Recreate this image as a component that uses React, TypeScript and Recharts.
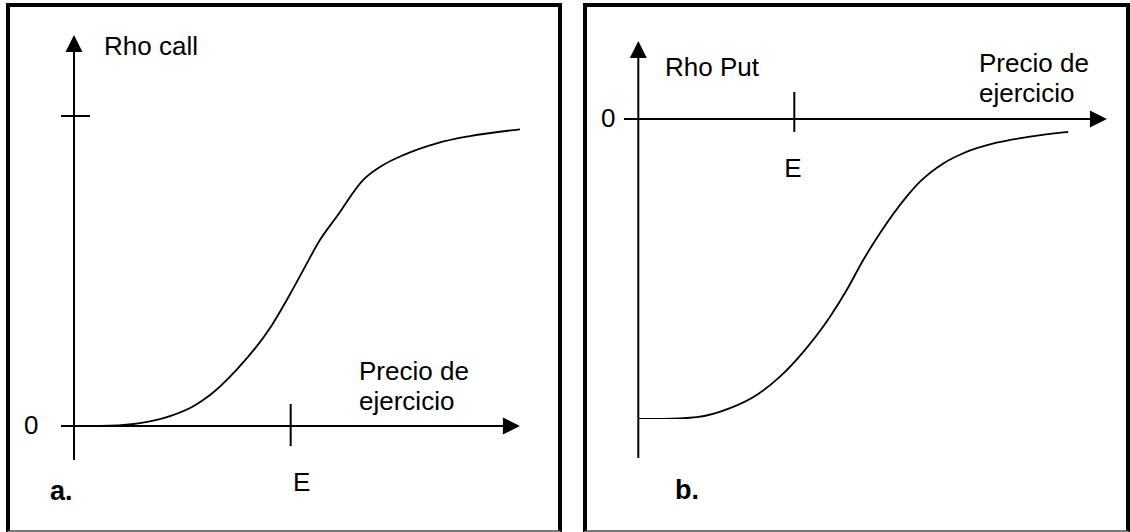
import React from "react";
import { ComposedChart, Line, XAxis, YAxis, ReferenceLine } from "recharts";

// strike price = 100 on both x scales
const callPrice = [0, 12, 28.9, 44.3, 55.1, 62.8, 75.1, 90.4, 99.7, 105.8, 113.5, 121.2, 133.5, 142.7, 152, 167.4, 182.7, 205.8];
const callRho = [0, 0, 0.008, 0.032, 0.064, 0.1, 0.182, 0.315, 0.425, 0.503, 0.6, 0.675, 0.794, 0.842, 0.874, 0.912, 0.935, 0.957];

const putPrice = [0, 16, 37.4, 58.8, 75.9, 90.8, 105.8, 122.9, 133.6, 144.2, 154.9, 172, 180.6, 195.5, 208.3, 229.7, 251.1, 275.6];
const putRho = [-1, -1, -0.994, -0.964, -0.92, -0.859, -0.776, -0.659, -0.57, -0.47, -0.381, -0.259, -0.209, -0.148, -0.114, -0.079, -0.059, -0.043];

const strike = 100;
const axisTitleX = ["Precio de", "ejercicio"];
const strikeLabel = "E";
const zeroLabel = "0";

const callData = callPrice.map((x, i) => ({ x, rho: callRho[i] }));
const putData = putPrice.map((x, i) => ({ x, rho: putRho[i] }));

const FONT = "'Liberation Sans', Arial, sans-serif";

const ArrowLine = (props: any) => {
  const { x1, y1, x2, y2 } = props;
  const dx = x2 - x1;
  const dy = y2 - y1;
  const len = Math.hypot(dx, dy) || 1;
  const ux = dx / len;
  const uy = dy / len;
  const hl = 17;
  const hw = 8.5;
  const bx = x2 - ux * hl;
  const by = y2 - uy * hl;
  return (
    <g>
      <line x1={x1} y1={y1} x2={bx} y2={by} stroke="#000" strokeWidth={2} />
      <polygon
        points={`${x2},${y2} ${bx - uy * hw},${by + ux * hw} ${bx + uy * hw},${by - ux * hw}`}
        fill="#000"
      />
    </g>
  );
};

const panelStyle = (left: number, width: number): React.CSSProperties => ({
  position: "absolute",
  left,
  top: 3,
  width,
  height: 529,
  boxSizing: "border-box",
  borderTop: "4px solid #000",
  borderLeft: "4px solid #000",
  borderRight: "4px solid #000",
  borderBottom: "2px solid #777",
});

export default function App() {
  return (
    <div style={{ position: "absolute", left: 0, top: 0, width: 1130, height: 532, background: "#fff", overflow: "hidden" }}>
      <div style={panelStyle(6, 556)} />
      <div style={panelStyle(583, 547)} />

      {/* a. Rho call */}
      <div style={{ position: "absolute", left: 0, top: 0 }}>
        <ComposedChart width={565} height={532} data={callData} margin={{ left: 74, right: 36, top: 116, bottom: 106 }}>
          <XAxis dataKey="x" type="number" domain={[0, 210]} allowDataOverflow hide />
          <YAxis type="number" domain={[0, 1]} allowDataOverflow hide />
          <ReferenceLine segment={[{ x: -6, y: 0 }, { x: 205.8, y: 0 }]} ifOverflow="visible" shape={ArrowLine} />
          <ReferenceLine segment={[{ x: 0, y: -0.11 }, { x: 0, y: 1.261 }]} ifOverflow="visible" shape={ArrowLine} />
          <ReferenceLine segment={[{ x: -6, y: 1 }, { x: 7.4, y: 1 }]} ifOverflow="visible" stroke="#000" strokeWidth={2} />
          <ReferenceLine segment={[{ x: strike, y: 0.071 }, { x: strike, y: -0.065 }]} ifOverflow="visible" stroke="#000" strokeWidth={2} />
          <Line dataKey="rho" type="monotone" stroke="#000" strokeWidth={1.8} dot={false} isAnimationActive={false} />
        </ComposedChart>
      </div>

      {/* b. Rho put */}
      <div style={{ position: "absolute", left: 575, top: 0 }}>
        <ComposedChart width={555} height={532} data={putData} margin={{ left: 63.3, right: 23.7, top: 119, bottom: 113 }}>
          <XAxis dataKey="x" type="number" domain={[0, 300]} allowDataOverflow hide />
          <YAxis type="number" domain={[-1, 0]} allowDataOverflow hide />
          <ReferenceLine segment={[{ x: -9.2, y: 0 }, { x: 300.4, y: 0 }]} ifOverflow="visible" shape={ArrowLine} />
          <ReferenceLine segment={[{ x: 0, y: -1.13 }, { x: 0, y: 0.26 }]} ifOverflow="visible" shape={ArrowLine} />
          <ReferenceLine segment={[{ x: strike, y: 0.09 }, { x: strike, y: -0.043 }]} ifOverflow="visible" stroke="#000" strokeWidth={2} />
          <Line dataKey="rho" type="monotone" stroke="#000" strokeWidth={1.8} dot={false} isAnimationActive={false} />
        </ComposedChart>
      </div>

      <svg width={1130} height={532} style={{ position: "absolute", left: 0, top: 0, pointerEvents: "none" }}>
        <g fontFamily={FONT} fontSize={26} fill="#000">
          <text x={104} y={55}>Rho call</text>
          <text x={24} y={434}>{zeroLabel}</text>
          <text x={359} y={380}>{axisTitleX[0]}</text>
          <text x={359} y={410}>{axisTitleX[1]}</text>
          <text x={293} y={491}>{strikeLabel}</text>

          <text x={665} y={76}>Rho Put</text>
          <text x={601} y={127}>{zeroLabel}</text>
          <text x={979} y={72}>{axisTitleX[0]}</text>
          <text x={979} y={102}>{axisTitleX[1]}</text>
          <text x={793} y={177} textAnchor="middle">{strikeLabel}</text>
        </g>
        <g fontFamily={FONT} fontSize={27} fontWeight="bold" fill="#000">
          <text x={50} y={500}>a.</text>
          <text x={675} y={499}>b.</text>
        </g>
      </svg>
    </div>
  );
}
